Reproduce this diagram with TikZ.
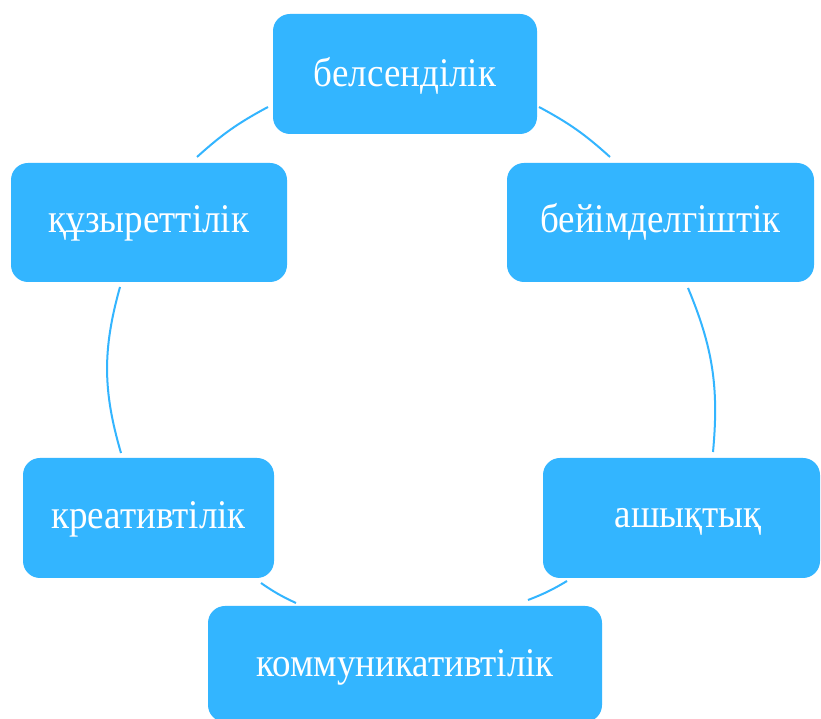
\documentclass[tikz,border=0pt]{standalone}
\usepackage{fontspec}
\setmainfont{Liberation Serif}
\definecolor{boxblue}{RGB}{51,181,255}
\newcommand{\tallt}[1]{\scalebox{1}[1.1]{#1}}
\begin{document}
\begin{tikzpicture}[x=1pt,y=1pt,
  cbox/.style={draw=none, fill=boxblue, rounded corners=17pt, text=white,
    font=\fontsize{37}{40}\selectfont, inner sep=0pt, anchor=center,
    text height=27pt, text depth=7pt},
  conn/.style={draw=boxblue, line width=2pt}]
\useasboundingbox (0,0) rectangle (821,719);
\fill[white] (0,0) rectangle (821,719);
\node[cbox, minimum width=264pt, minimum height=120pt] (b1) at (405,645) {\raisebox{-3pt}{\tallt{белсенділік}}};
\node[cbox, minimum width=307pt, minimum height=119pt] (b2) at (660.5,496.5) {\tallt{бейімделгіштік}};
\node[cbox, minimum width=277pt, minimum height=120pt] (b3) at (681.5,201) {\hspace*{13pt}\tallt{ашықтық}};
\node[cbox, minimum width=394pt, minimum height=116pt] (b4) at (405,55) {\raisebox{-3pt}{\tallt{коммуникативтілік}}};
\node[cbox, minimum width=251pt, minimum height=120pt] (b5) at (148.5,201) {\raisebox{-1pt}{\tallt{креативтілік}}};
\node[cbox, minimum width=276pt, minimum height=119pt] (b6) at (149,496.5) {\tallt{құзыреттілік}};
\coordinate (a1s) at (197,562); \coordinate (a1e) at (268,612);
\coordinate (a2s) at (539,612); \coordinate (a2e) at (610,562);
\coordinate (a3s) at (688,431); \coordinate (a3e) at (713,267);
\coordinate (a4s) at (567,138); \coordinate (a4e) at (528,119);
\coordinate (a5s) at (296,116); \coordinate (a5e) at (261,136);
\coordinate (a6s) at (121,266); \coordinate (a6e) at (120,432);
\draw[conn] (a1s) to[bend left=7] (a1e);
\draw[conn] (a2s) to[bend left=7] (a2e);
\draw[conn] (a3s) to[bend left=14] (a3e);
\draw[conn] (a4s) to[bend left=5] (a4e);
\draw[conn] (a5s) to[bend left=5] (a5e);
\draw[conn] (a6s) to[bend left=16] (a6e);
\end{tikzpicture}
\end{document}
